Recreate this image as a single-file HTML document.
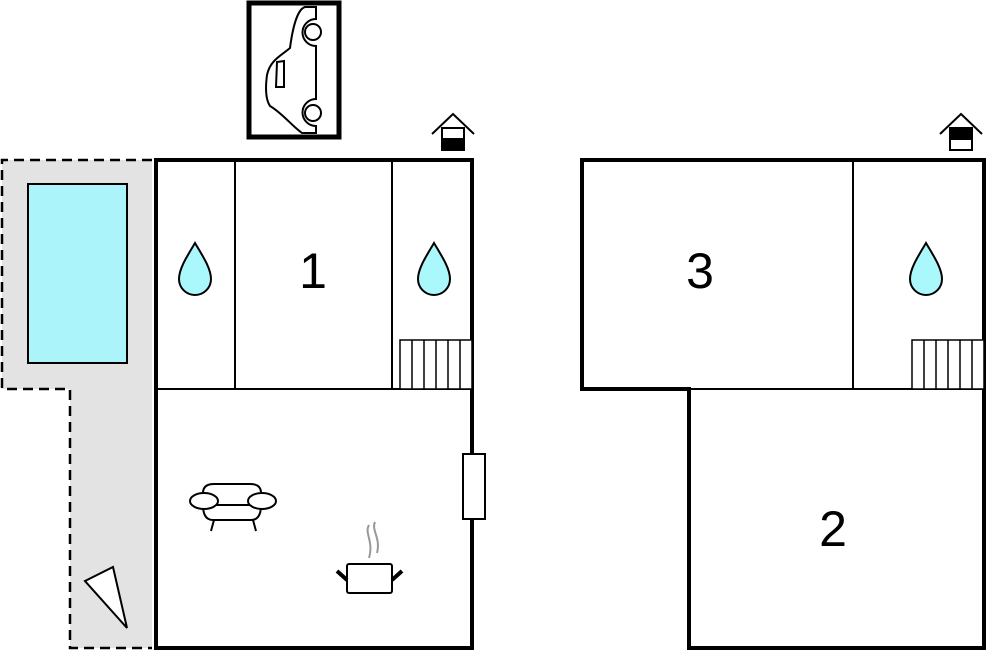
<!DOCTYPE html>
<html><head><style>html,body{margin:0;padding:0;background:#fff}svg{display:block}</style></head><body>
<svg width="988" height="652" viewBox="0 0 988 652" xmlns="http://www.w3.org/2000/svg">
<!-- gray terrace -->
<path d="M2,160 H152 V648 H70 V389 H2 Z" fill="#e3e3e3"/>
<path d="M152,160 H2 V389 H70 V648 H152" fill="none" stroke="#000" stroke-width="2.5" stroke-dasharray="10,6"/>
<rect x="28" y="184" width="99" height="179" fill="#aaf4fa" stroke="#000" stroke-width="2"/>
<polygon points="85,581 113,567 127,628" fill="#fff" stroke="#000" stroke-width="2"/>
<!-- left building -->
<rect x="156" y="160" width="316" height="488" fill="#fff" stroke="#000" stroke-width="4"/>
<line x1="156" y1="389" x2="472" y2="389" stroke="#000" stroke-width="2"/>
<line x1="235" y1="160" x2="235" y2="389" stroke="#000" stroke-width="2"/>
<line x1="392" y1="160" x2="392" y2="389" stroke="#000" stroke-width="2"/>
<g stroke="#000" stroke-width="1.5" fill="#fff">
<rect x="400" y="340" width="72" height="49"/>
<line x1="412" y1="340" x2="412" y2="389"/><line x1="424" y1="340" x2="424" y2="389"/><line x1="436" y1="340" x2="436" y2="389"/><line x1="448" y1="340" x2="448" y2="389"/><line x1="460" y1="340" x2="460" y2="389"/>
</g>
<rect x="463" y="454" width="22" height="65" fill="#fff" stroke="#000" stroke-width="2"/>
<!-- right building -->
<path d="M582,160 H984 V648 H689 V389 H582 Z" fill="#fff" stroke="#000" stroke-width="4"/>
<line x1="689" y1="389" x2="984" y2="389" stroke="#000" stroke-width="2"/>
<line x1="853" y1="160" x2="853" y2="389" stroke="#000" stroke-width="2"/>
<g stroke="#000" stroke-width="1.5" fill="#fff">
<rect x="912" y="340" width="72" height="49"/>
<line x1="924" y1="340" x2="924" y2="389"/><line x1="936" y1="340" x2="936" y2="389"/><line x1="948" y1="340" x2="948" y2="389"/><line x1="960" y1="340" x2="960" y2="389"/><line x1="972" y1="340" x2="972" y2="389"/>
</g>
<!-- drops -->
<g fill="#aaf8fc" stroke="#000" stroke-width="2">
<path d="M195,243 C188,255 179,268 179,279 A16,16 0 0 0 211,279 C211,268 202,255 195,243 Z"/>
<path d="M434,243 C427,255 418,268 418,279 A16,16 0 0 0 450,279 C450,268 441,255 434,243 Z"/>
<path d="M926,243 C919,255 910,268 910,279 A16,16 0 0 0 942,279 C942,268 933,255 926,243 Z"/>
</g>
<g font-family="Liberation Sans, sans-serif" font-size="50" text-anchor="middle" fill="#000">
<text x="313" y="288">1</text><text x="700" y="288">3</text><text x="833" y="546">2</text>
</g>
<!-- car -->
<rect x="249" y="3" width="90" height="134" fill="#fff" stroke="#000" stroke-width="5"/>
<g fill="none" stroke="#000" stroke-width="2">
<path d="M317,7 H305 C298,9 293,25 290,48 C282,55 270,60 267,75 C265,90 266,100 270,106 C282,113 291,125 302,133 H317"/>
<path d="M316,7 V19 A13,13 0 0 0 316,46 V99 A13,13 0 0 0 316,126 V134" fill="#fff"/>
<circle cx="313" cy="32" r="8"/><circle cx="313" cy="113" r="8"/>
<path d="M277,62 L284,61 V87 H276 Z"/>
</g>
<!-- house icons -->
<g stroke="#000" stroke-width="2" fill="none">
<path d="M432,134 L453,114 L474,134"/><rect x="442" y="128" width="22" height="22" fill="#fff"/>
<rect x="442" y="139" width="22" height="11" fill="#000"/>
<path d="M940,134 L961,114 L982,134"/><rect x="950" y="128" width="22" height="22" fill="#fff"/>
<rect x="950" y="128" width="22" height="11" fill="#000"/>
</g>
<!-- sofa -->
<g fill="#fff" stroke="#000" stroke-width="2">
<path d="M203,505 V493 Q203,484 214,484 H250 Q261,484 261,493 V505"/>
<path d="M203,505 Q203,520 213,520 H251 Q261,520 261,505 Z"/>
<ellipse cx="204" cy="501" rx="14" ry="8"/><ellipse cx="262" cy="501" rx="14" ry="8"/>
<line x1="214" y1="520" x2="211" y2="531"/><line x1="253" y1="520" x2="256" y2="531"/>
</g>
<!-- pot -->
<g stroke="#999" stroke-width="2" fill="none">
<path d="M369,525 C364,533 374,541 369,558"/><path d="M375,522 C371,530 381,538 377,553"/>
</g>
<rect x="347" y="564" width="45" height="29" rx="2" fill="#fff" stroke="#000" stroke-width="2"/>
<line x1="337" y1="571" x2="347" y2="580" stroke="#000" stroke-width="4"/>
<line x1="402" y1="571" x2="392" y2="580" stroke="#000" stroke-width="4"/>
</svg>
</body></html>
